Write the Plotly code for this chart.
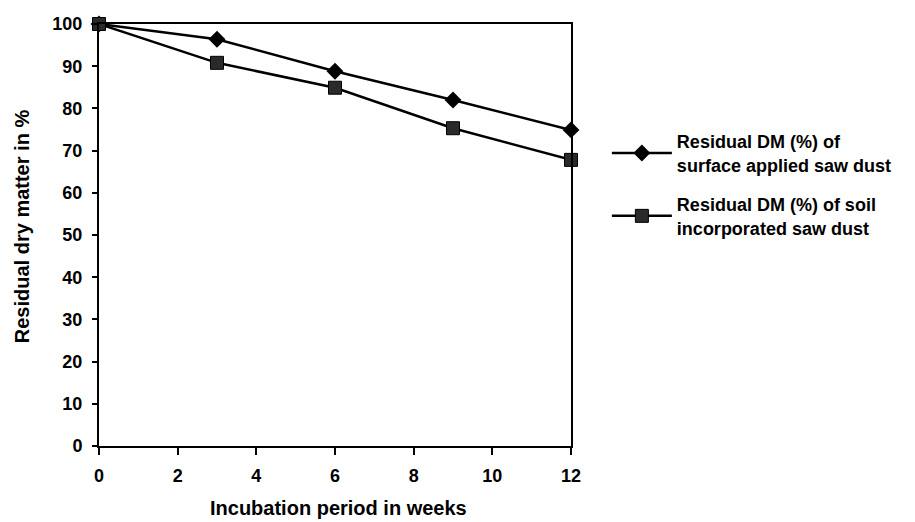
import plotly.graph_objects as go

# Incubation time (weeks) and residual dry matter (%)
weeks = [0, 3, 6, 9, 12]
surface_applied = [100, 96.4, 88.8, 82.0, 74.9]
soil_incorporated = [100, 90.8, 84.9, 75.3, 67.8]

surface_name = "<b>Residual DM (%) of<br>surface applied saw dust</b>"
soil_name = "<b>Residual DM (%) of soil<br>incorporated saw dust</b>"

x_ticks = [0, 2, 4, 6, 8, 10, 12]
y_ticks = [0, 10, 20, 30, 40, 50, 60, 70, 80, 90, 100]

x_title = "<b>Incubation period in weeks</b>"
y_title = "<b>Residual dry matter in %</b>"

font_family = "Liberation Sans, Arial, sans-serif"

fig = go.Figure()
fig.add_trace(go.Scatter(
    x=weeks, y=surface_applied, name=surface_name, mode="lines+markers",
    legendgroup="surface",
    line=dict(color="black", width=2.5),
    marker=dict(symbol="diamond", size=13, color="black"),
    cliponaxis=False,
))
fig.add_trace(go.Scatter(
    x=weeks, y=soil_incorporated, name=soil_name, mode="lines+markers",
    legendgroup="soil",
    line=dict(color="black", width=2.5),
    marker=dict(symbol="square", size=13, color="#2a2a2a",
                line=dict(color="black", width=1)),
    cliponaxis=False,
))

# Axis titles placed as paper-anchored text
fig.add_annotation(
    text=x_title, xref="paper", yref="paper", x=0.508, y=-0.147,
    xanchor="center", yanchor="middle", showarrow=False,
    font=dict(family=font_family, size=20, color="black"),
)
fig.add_annotation(
    text=y_title, xref="paper", yref="paper", x=-0.163, y=0.521,
    xanchor="center", yanchor="middle", showarrow=False, textangle=-90,
    font=dict(family=font_family, size=20, color="black"),
)

fig.update_layout(
    width=915, height=522,
    margin=dict(l=99, r=344, t=24, b=76, autoexpand=False),
    paper_bgcolor="white", plot_bgcolor="white",
    font=dict(family=font_family, size=18, color="black"),
    showlegend=True,
    legend=dict(
        x=1.076, y=0.765, xanchor="left", yanchor="top",
        font=dict(family=font_family, size=18, color="black"),
        bgcolor="rgba(0,0,0,0)", tracegroupgap=13, itemwidth=60,
    ),
    xaxis=dict(
        range=[0, 12], tickvals=x_ticks, ticktext=[f"<b>{v}</b>" for v in x_ticks],
        showgrid=False, zeroline=False, automargin=False,
        showline=True, linecolor="black", linewidth=2, mirror=True,
        ticks="outside", ticklen=7, tickwidth=1.5, tickcolor="black",
        ticklabelstandoff=5,
        tickfont=dict(family=font_family, size=18, color="black"),
    ),
    yaxis=dict(
        range=[0, 100], tickvals=y_ticks, ticktext=[f"<b>{v}</b>" for v in y_ticks],
        showgrid=False, zeroline=False, automargin=False,
        showline=True, linecolor="black", linewidth=2, mirror=True,
        ticks="outside", ticklen=5, tickwidth=1.5, tickcolor="black",
        ticklabelstandoff=6,
        tickfont=dict(family=font_family, size=18, color="black"),
    ),
)

fig.write_html("out.html")
